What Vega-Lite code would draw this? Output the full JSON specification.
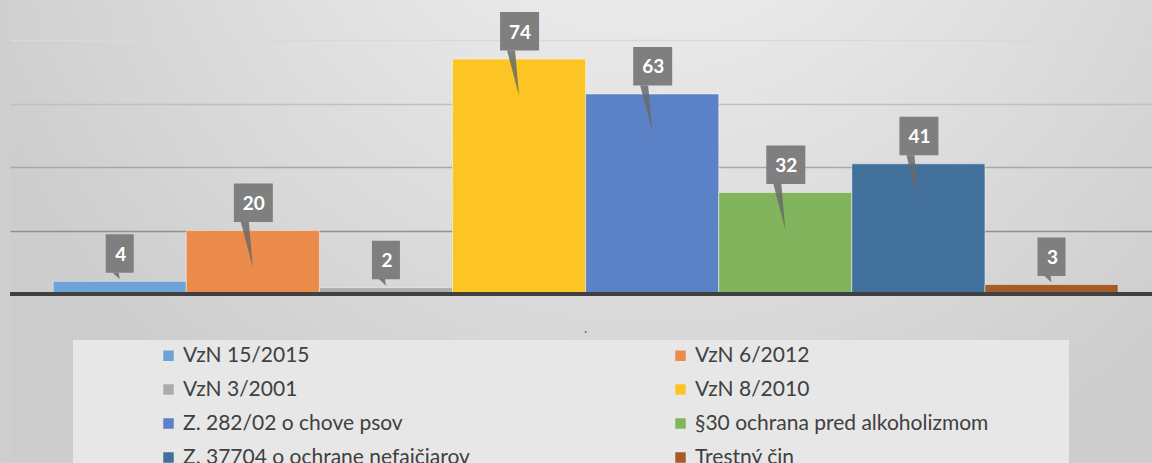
{
  "$schema": "https://vega.github.io/schema/vega-lite/v6.json",
  "width": 1142,
  "height": 463,
  "autosize": {"type": "none"},
  "padding": {"left": 10, "top": 0, "right": 0, "bottom": 0},
  "background": "#cfcfcf",
  "config": {
    "view": {
      "stroke": null,
      "fill": {
        "gradient": "radial",
        "x1": 0.56, "y1": 0.1, "r1": 0,
        "x2": 0.56, "y2": 0.15, "r2": 0.63,
        "stops": [
          {"offset": 0, "color": "#f6f6f6"},
          {"offset": 1, "color": "#cdcdcd"}
        ]
      }
    },
    "font": "Lato"
  },
  "data": {
    "values": [
      {"cat": ".", "series": "VzN 15/2015", "value": 4},
      {"cat": ".", "series": "VzN 6/2012", "value": 20},
      {"cat": ".", "series": "VzN 3/2001", "value": 2},
      {"cat": ".", "series": "VzN 8/2010", "value": 74},
      {"cat": ".", "series": "Z. 282/02 o chove psov", "value": 63},
      {"cat": ".", "series": "§30 ochrana pred alkoholizmom", "value": 32},
      {"cat": ".", "series": "Z. 37704 o ochrane nefajčiarov", "value": 41},
      {"cat": ".", "series": "Trestný čin", "value": 3}
    ]
  },
  "layer": [
    {
      "mark": {"type": "bar", "stroke": "#ffffff", "strokeOpacity": 0.45, "strokeWidth": 1},
      "encoding": {
        "x": {
          "field": "cat", "type": "nominal",
          "scale": {"paddingInner": 0, "paddingOuter": 0.0362, "align": 0.56},
          "axis": {
            "title": null, "domain": false, "ticks": false, "grid": false,
            "labelAngle": 0, "labelFontSize": 14, "labelColor": "#595959",
            "labelBaseline": "alphabetic", "labelPadding": 0, "offset": -131
          }
        },
        "xOffset": {"field": "series", "type": "nominal", "sort": null, "scale": {"paddingInner": 0, "paddingOuter": 0}},
        "y": {
          "field": "value", "type": "quantitative",
          "scale": {"domain": [-53.2, 92.6], "nice": false},
          "axis": {
            "values": [20, 40, 60, 80], "labels": false, "ticks": false, "domain": false,
            "title": null, "grid": true, "gridWidth": 1.5,
            "gridColor": {
              "condition": [
                {"test": "datum.value >= 80", "value": "#d9d9d9"},
                {"test": "datum.value >= 60", "value": "#c0c0c0"},
                {"test": "datum.value >= 40", "value": "#a8a8a8"}
              ],
              "value": "#909090"
            }
          }
        },
        "color": {
          "field": "series", "type": "nominal", "sort": null,
          "scale": {
            "domain": ["VzN 15/2015", "VzN 6/2012", "VzN 3/2001", "VzN 8/2010", "Z. 282/02 o chove psov", "§30 ochrana pred alkoholizmom", "Z. 37704 o ochrane nefajčiarov", "Trestný čin"],
            "range": ["#6da4d7", "#eb8b4b", "#acacac", "#fdc524", "#5b82c6", "#82b45e", "#41709c", "#a55b2b"]
          },
          "legend": {
            "orient": "none", "legendX": 63, "legendY": 340,
            "direction": "horizontal",
            "columns": 2, "columnPadding": 200, "rowPadding": 12,
            "title": "\u00a0", "titleOrient": "left", "titleFontSize": 8, "titlePadding": 80,
            "fillColor": "#e7e7e7", "padding": 5,
            "symbolType": "square", "symbolSize": 110, "symbolStrokeWidth": 0,
            "labelFont": "Lato", "labelFontSize": 21, "labelColor": "#404040", "labelOffset": 4, "labelLimit": 800,
            "labelExpr": "datum.label == '§30 ochrana pred alkoholizmom' ? datum.label + '\u2800\u2800\u2800\u2800\u2800' : datum.label"
          }
        }
      }
    },
    {
      "mark": {"type": "rule", "color": "#404040", "strokeWidth": 4},
      "encoding": {"y": {"datum": 0}}
    },
    {
      "mark": {"type": "point", "filled": true, "size": 4, "opacity": 1, "strokeWidth": 0, "color": "#7f7f7f"},
      "encoding": {
        "x": {"field": "cat", "type": "nominal"},
        "xOffset": {"field": "series", "type": "nominal", "sort": null},
        "y": {"field": "value", "type": "quantitative"},
        "shape": {
          "condition": {"test": "datum.value < 10", "value": "M-14,-47H14V-8.5H-14Z"},
          "value": "M-19,-47H20V-8.5H-19Z"
        }
      }
    },
    {
      "mark": {"type": "point", "filled": true, "size": 4, "opacity": 0.85, "strokeWidth": 0, "color": "#6a6a6a"},
      "encoding": {
        "x": {"field": "cat", "type": "nominal"},
        "xOffset": {"field": "series", "type": "nominal", "sort": null},
        "y": {"field": "value", "type": "quantitative"},
        "shape": {
          "condition": {"test": "datum.value < 10", "value": "M-7,-8.6L-1,-8.6L0,-2Z"},
          "value": "M-12,-8.6L-4,-8.6L0,37Z"
        }
      }
    },
    {
      "mark": {"type": "text", "color": "#ffffff", "font": "Lato", "fontWeight": "bold", "fontSize": 19, "dy": -20.5, "dx": 1, "baseline": "alphabetic", "align": "center"},
      "encoding": {
        "x": {"field": "cat", "type": "nominal"},
        "xOffset": {"field": "series", "type": "nominal", "sort": null},
        "y": {"field": "value", "type": "quantitative"},
        "text": {"field": "value", "type": "quantitative"}
      }
    }
  ]
}
